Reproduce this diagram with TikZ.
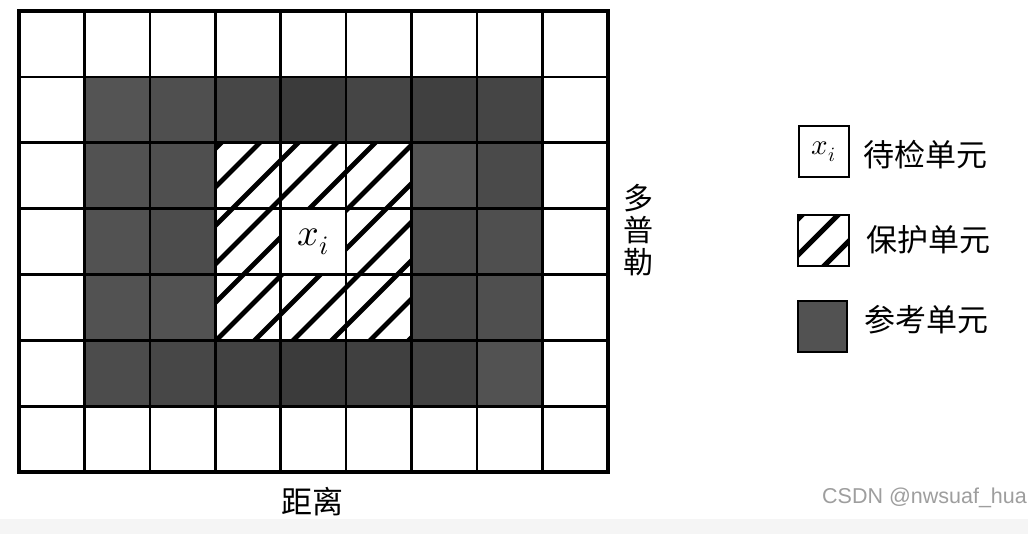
\documentclass[tikz,border=0pt]{standalone}
\usepackage{fontspec}
\usepackage{unicode-math}
\setmathfont{Latin Modern Math}
\newfontfamily\cjk{Noto Sans CJK SC}
\newfontfamily\wmfont{Liberation Sans}
\tikzset{
  cell/.style={draw=black, line width=2.6pt, minimum width=65.4pt, minimum height=65.9pt,
    inner sep=0pt, outer sep=0pt, anchor=north west, fill=white},
  refcell/.style={cell, fill=#1},
  guardcell/.style={cell, fill=white},
  stripe/.style={line width=4.8pt, black},
  legbox/.style={draw=black, line width=2pt, minimum width=50pt, minimum height=51pt,
    inner sep=0pt, outer sep=0pt, fill=white},
  cjktext/.style={font=\cjk\fontsize{31}{33}\selectfont, inner sep=0pt},
}
\begin{document}
\begin{tikzpicture}[x=1pt,y=-1pt]
\clip (0,0) rectangle (1028,534);
\useasboundingbox (0,0) rectangle (1028,534);
\fill[white] (0,0) rectangle (1028,534);
\fill[black!4] (0,519) rectangle (1028,534);

% outer ring of plain cells
\foreach \i in {0,...,8} {
  \node[cell] (c\i-0) at ({19+65.4*\i},{11+65.9*0}) {};
  \node[cell] (c\i-6) at ({19+65.4*\i},{11+65.9*6}) {};
}
\foreach \j in {1,...,5} {
  \node[cell] (c0-\j) at ({19+65.4*0},{11+65.9*\j}) {};
  \node[cell] (c8-\j) at ({19+65.4*8},{11+65.9*\j}) {};
}
% reference cells
\foreach \i/\j/\s in {1/1/67,2/1/69,3/1/72,4/1/77,5/1/73,6/1/75,7/1/73,
                      1/2/68,2/2/69,6/2/67,7/2/71,
                      1/3/68,2/3/70,6/3/71,7/3/69,
                      1/4/68,2/4/68,6/4/72,7/4/69,
                      1/5/70,2/5/72,3/5/74,4/5/77,5/5/75,6/5/74,7/5/68}
  \node[refcell=black!\s] (c\i-\j) at ({19+65.4*\i},{11+65.9*\j}) {};
% guard cells
\foreach \i/\j in {3/2,4/2,5/2,3/3,5/3,3/4,4/4,5/4}
  \node[guardcell] (c\i-\j) at ({19+65.4*\i},{11+65.9*\j}) {};
% hatching of the guard block
\begin{scope}
  \clip (c3-2.north west) rectangle (c5-4.south east);
  \foreach \k in {0,...,10}
    \draw[stripe] ({364+38.5*\k-420},420) -- ({364+38.5*\k},0);
\end{scope}
\foreach \i/\j in {3/2,4/2,5/2,3/3,5/3,3/4,4/4,5/4}
  \draw[line width=2.6pt] (c\i-\j.north west) rectangle (c\i-\j.south east);
% cell under test
\node[cell, font=\fontsize{38}{40}\selectfont] (c4-3) at ({19+65.4*4},{11+65.9*3}) {$x_i$};

% outer frame
\draw[line width=3.8pt] (c0-0.north west) rectangle (c8-6.south east);

% axis labels
\node[cjktext] (dist) at (312.5,502) {距离};
\node[cjktext, align=center, font=\cjk\fontsize{30}{32}\selectfont] (dopp) at (638,230) {多\\普\\勒};

% legend
\node[legbox, font=\fontsize{29}{31}\selectfont] (legtest) at (824,151.5) {$x_i$};
\node[cjktext] (legtesttxt) at (925.5,155) {待检单元};

\node[legbox, minimum width=51pt] (legguard) at (823.5,240.5) {};
\begin{scope}
  \clip (legguard.north west) rectangle (legguard.south east);
  \foreach \c in {4,40,77}
    \draw[line width=5pt] ({1013+\c-320},320) -- ({1013+\c-150},150);
\end{scope}
\draw[line width=2pt] (legguard.north west) rectangle (legguard.south east);
\node[cjktext] (legguardtxt) at (928.5,239.5) {保护单元};

\node[legbox, minimum width=49pt, fill=black!68] (legref) at (822.5,326.5) {};
\node[cjktext] (legreftxt) at (926,320) {参考单元};

% watermark
\node[anchor=west, inner sep=0pt, text=black!38, font=\wmfont\fontsize{21.5}{23}\selectfont] (wm) at (822,498) {CSDN @nwsuaf\_hua};
\end{tikzpicture}
\end{document}
